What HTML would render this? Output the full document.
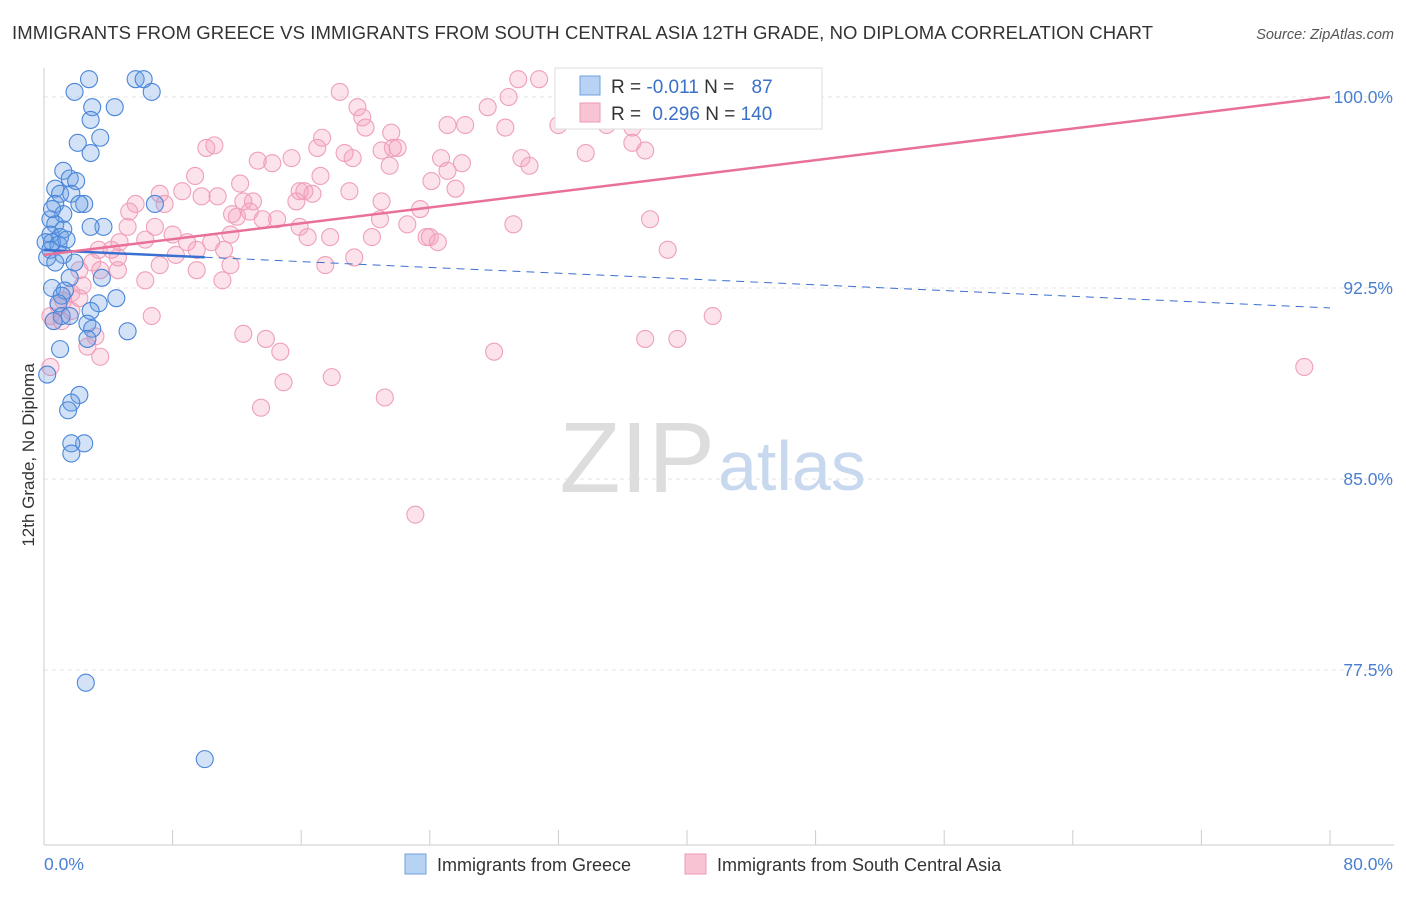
<!DOCTYPE html>
<html><head><meta charset="utf-8"><style>
body{margin:0;background:#fff;font-family:"Liberation Sans",sans-serif;}
svg text{font-family:"Liberation Sans",sans-serif;}
</style></head><body>
<svg id="c" width="1406" height="892" xmlns="http://www.w3.org/2000/svg">
<text x="12" y="39" font-size="18.5" fill="#333" textLength="1141">IMMIGRANTS FROM GREECE VS IMMIGRANTS FROM SOUTH CENTRAL ASIA 12TH GRADE, NO DIPLOMA CORRELATION CHART</text>
<text x="1394" y="39" font-size="14.5" fill="#555" font-style="italic" text-anchor="end">Source: ZipAtlas.com</text>
<text x="34" y="455" font-size="17" fill="#333" transform="rotate(-90 34 455)" text-anchor="middle">12th Grade, No Diploma</text>
<g id="grid"></g>
<text x="715" y="492" font-size="100" fill="#ddd" text-anchor="end" font-family="Liberation Serif">ZIP</text>
<text x="718" y="490" font-size="70" fill="#c8d8ee">atlas</text>
<g id="marks"></g>
<g id="lines"></g>
<g>
<rect x="555" y="68" width="267" height="61" fill="#fff" stroke="#ddd"/>
<rect x="580" y="76" width="20" height="19" fill="#b8d2f4" stroke="#6fa0e0"/>
<rect x="580" y="103" width="20" height="19" fill="#f8c4d4" stroke="#ec9ab6"/>
<text x="611" y="93" font-size="19" fill="#333">R = <tspan fill="#3a70c8">-0.011</tspan>   N = <tspan fill="#3a70c8" dx="12">87</tspan></text>
<text x="611" y="120" font-size="19" fill="#333">R = <tspan fill="#3a70c8" dx="6">0.296</tspan>   N = <tspan fill="#3a70c8">140</tspan></text>
</g>
<g>
<rect x="405" y="854" width="21" height="20" fill="#b8d2f4" stroke="#6fa0e0"/>
<text x="437" y="871" font-size="18" fill="#333">Immigrants from Greece</text>
<rect x="685" y="854" width="21" height="20" fill="#f8c4d4" stroke="#ec9ab6"/>
<text x="717" y="871" font-size="18" fill="#333">Immigrants from South Central Asia</text>
</g>
</svg>
<script>
const yTicks=[100,92.5,85,77.5];
const yTickLabels=["100.0%","92.5%","85.0%","77.5%"];
const xTickLabels=["0.0%","80.0%"];
const blueX=[2.8,5.7,6.2,6.7,1.9,3.0,4.4,2.9,3.5,2.1,2.9,1.2,1.6,2.0,0.7,1.0,1.7,2.5,2.2,0.7,1.2,0.4,0.7,1.2,0.4,1.0,0.1,0.5,0.9,1.4,0.4,0.2,1.2,3.7,2.9,6.9,1.6,3.6,0.5,1.3,1.1,0.9,3.4,4.5,2.9,1.1,1.6,0.6,2.7,3.0,5.2,1.0,2.7,0.2,2.2,1.7,1.5,2.5,1.7,1.7,2.6,10.0,0.5,0.7,1.9];
const blueY=[100.7,100.7,100.7,100.2,100.2,99.6,99.6,99.1,98.4,98.2,97.8,97.1,96.8,96.7,96.4,96.2,96.2,95.8,95.8,95.8,95.4,95.2,95.0,94.8,94.6,94.5,94.3,94.3,94.2,94.4,94.0,93.7,93.8,94.9,94.9,95.8,92.9,92.9,92.5,92.4,92.2,91.9,91.9,92.1,91.6,91.4,91.4,91.2,91.1,90.9,90.8,90.1,90.5,89.1,88.3,88.0,87.7,86.4,86.4,86.0,77.0,74.0,95.6,93.5,93.5];
const pinkX=[29.5,30.8,18.4,19.5,19.8,20.0,21.6,27.6,28.9,26.2,25.1,28.7,32.0,33.1,35.0,36.6,33.7,36.6,37.4,29.7,30.2,26.0,24.7,25.1,25.6,24.1,21.7,22.0,21.0,21.5,19.2,18.7,17.3,17.0,15.4,14.2,13.3,10.6,10.1,9.4,12.2,15.9,16.2,16.7,17.2,19.0,21.0,23.4,20.9,15.7,13.0,12.4,12.0,12.8,13.6,14.5,15.9,16.4,17.8,20.4,22.6,24.0,24.5,23.8,29.2,37.7,38.8,19.3,17.5,11.6,11.2,10.4,11.6,11.7,10.8,9.8,8.6,7.2,7.5,5.7,5.3,5.2,4.7,6.3,6.9,8.0,8.9,9.5,8.2,7.2,4.6,4.2,3.4,3.0,3.5,2.2,2.4,1.7,1.2,0.9,0.4,0.6,1.1,1.7,2.2,3.2,2.7,3.5,0.4,6.3,9.5,11.1,12.4,13.8,14.7,14.9,13.5,17.9,21.2,23.1,28.0,37.4,39.4,41.6,78.4,6.7,4.6];
const pinkY=[100.7,100.7,100.2,99.6,99.2,98.8,98.6,99.6,100.0,98.9,98.9,98.8,98.9,99.8,98.9,98.8,97.8,98.2,97.9,97.6,97.3,97.4,97.6,97.1,96.4,96.7,98.0,98.0,97.9,97.3,97.6,97.8,98.4,98.0,97.6,97.4,97.5,98.1,98.0,96.9,96.6,96.3,96.3,96.2,96.9,96.3,95.9,95.6,95.2,95.9,95.9,95.9,95.3,95.5,95.2,95.2,94.9,94.5,94.5,94.5,95.0,94.5,94.3,94.5,95.0,95.2,94.0,93.7,93.4,93.4,94.0,94.3,94.6,95.4,96.1,96.1,96.3,96.2,95.8,95.8,95.5,94.9,94.3,94.4,94.9,94.6,94.3,94.0,93.8,93.4,93.7,94.0,94.0,93.5,93.2,93.2,92.6,92.3,92.0,91.8,91.4,91.2,91.2,91.6,92.1,90.6,90.2,89.8,89.4,92.8,93.2,92.8,90.7,90.5,90.0,88.8,87.8,89.0,88.2,83.6,90.0,90.5,90.5,91.4,89.4,91.4,93.2];
const blueTrend=[93.99,-0.0284];
const pinkTrend=[93.8,0.0775];
const X=v=>44+v/80*1286, Y=v=>97+(100-v)*191/7.5;
const NS="http://www.w3.org/2000/svg";
function mk(t,a,p){const e=document.createElementNS(NS,t);for(const k in a)e.setAttribute(k,a[k]);p.appendChild(e);return e;}
const g=document.getElementById('grid');
yTicks.forEach((t,i)=>{
 const l=mk('line',{x1:44,x2:1394,y1:Y(t),y2:Y(t),stroke:'#e4e4e4','stroke-dasharray':'4 4'},g);
 
 
 const tx=mk('text',{x:1393,y:Y(t)+6,'font-size':17.5,fill:'#4a7fd0','text-anchor':'end'},g);tx.textContent=yTickLabels[i];
 
 
});
mk('line',{x1:44,x2:44,y1:68,y2:845,stroke:'#ccc'},g);
mk('line',{x1:44,x2:1394,y1:845,y2:845,stroke:'#ccc'},g);
for(let i=0;i<=10;i++){mk('line',{x1:X(i*8),x2:X(i*8),y1:830,y2:845,stroke:'#ccc'},g);}
[0,80].forEach((v,i)=>{const tx=mk('text',{x:i?1393:44,y:870,'font-size':17.5,fill:'#4a7fd0','text-anchor':i?'end':'start'},g);tx.textContent=xTickLabels[i];
 
 });
const m=document.getElementById('marks');
pinkX.forEach((x,i)=>{const c=mk('circle',{cx:X(x),cy:Y(pinkY[i]),r:8.5,fill:'rgba(244,160,190,0.3)',stroke:'#ef9fbb','stroke-width':1.1},m);
 
 });
blueX.forEach((x,i)=>{const c=mk('circle',{cx:X(x),cy:Y(blueY[i]),r:8.5,fill:'rgba(110,160,230,0.3)',stroke:'#4a86d8','stroke-width':1.1},m);
 
 });
const L=document.getElementById('lines');
const bt=x=>blueTrend[0]+blueTrend[1]*x, pt=x=>pinkTrend[0]+pinkTrend[1]*x;
let l1=mk('line',{x1:X(0),y1:Y(bt(0)),x2:X(10),y2:Y(bt(10)),stroke:'#3a70d0','stroke-width':2.5},L);


let l2=mk('line',{x1:X(10),y1:Y(bt(10)),x2:X(80),y2:Y(bt(80)),stroke:'#3a70d0','stroke-width':1,'stroke-dasharray':'8 6'},L);


let l3=mk('line',{x1:X(0),y1:Y(pt(0)),x2:X(80),y2:Y(pt(80)),stroke:'#e8709a','stroke-width':2.5},L);


</script>
</body></html>
